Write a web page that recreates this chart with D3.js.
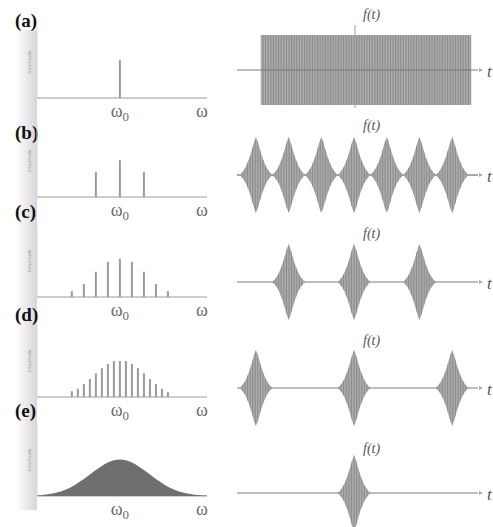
<!DOCTYPE html>
<html>
<head>
<meta charset="utf-8">
<script src="https://cdn.jsdelivr.net/npm/d3@7"></script>
<style>
  body { margin: 0; background: #fff; }
  svg { display: block; }
  .serif { font-family: 'Liberation Serif', 'Times New Roman', 'DejaVu Serif', serif; }
</style>
</head>
<body>
<div id="chart"></div>
<script>
// panel letters and axis labels
const panelLetters = ['(a)', '(b)', '(c)', '(d)', '(e)'];
const omegaLabel = 'ω';
const omegaZeroSub = '0';
const ampLabel = 'Amplitude';
const timeLabel = 't';
const funcLabel = 'f(t)';

// spectra: offset from ω0 (in line spacings) and amplitude
const freqA = [0];
const ampA = [0.53];
const freqB = [-2, 0, 2];
const ampB = [0.35, 0.51, 0.35];
const freqC = [-4, -3, -2, -1, 0, 1, 2, 3, 4];
const ampC = [0.08, 0.18, 0.35, 0.49, 0.53, 0.49, 0.35, 0.18, 0.08];
const freqD = [-4, -3.5, -3, -2.5, -2, -1.5, -1, -0.5, 0, 0.5, 1, 1.5, 2, 2.5, 3, 3.5, 4];
const ampD = [0.08, 0.115, 0.18, 0.25, 0.33, 0.40, 0.46, 0.50, 0.50, 0.50, 0.46, 0.40, 0.33, 0.25, 0.18, 0.115, 0.07];
// continuous spectrum (e)
const freqE = [-6.9, -6.5, -6, -5.5, -5, -4.5, -4, -3.5, -3, -2.5, -2, -1.5, -1, -0.5, 0,
               0.5, 1, 1.5, 2, 2.5, 3, 3.5, 4, 4.5, 5, 5.5, 6, 6.5, 7, 7.25];
const ampE = [0.005, 0.012, 0.022, 0.037, 0.058, 0.088, 0.127, 0.18, 0.235, 0.30, 0.36, 0.42, 0.47, 0.50, 0.51,
              0.50, 0.47, 0.42, 0.36, 0.30, 0.235, 0.18, 0.127, 0.088, 0.058, 0.037, 0.022, 0.012, 0.007, 0.005];

// time signals: burst centres, envelope of one burst
const extentA = [-2.85, 3.58];
const levelA = 0.92;
const burstsB = [-3, -2, -1, 0, 1, 2, 3];
const burstsC = [-2, 0, 2];
const burstsD = [-3, 0, 3];
const burstsE = [0];
const envOffset = [-0.5, -0.44, -0.38, -0.31, -0.25, -0.18, -0.12, -0.06, 0, 0.06, 0.12, 0.18, 0.25, 0.31, 0.38, 0.44, 0.5];
const envAmp = [0, 0.05, 0.12, 0.22, 0.34, 0.5, 0.68, 0.86, 1, 0.86, 0.68, 0.5, 0.34, 0.22, 0.12, 0.05, 0];

const W = 493, H = 527;
const LEFT_X = [37, 207];     // spectrum axis
const RIGHT_X = [237, 478];   // time axis
const SPEC_H = 72;            // spectrum y range
const SIG_H = 38;             // half height of signal

const rows = [
  { letterY: 27, base: 98, axisY: 70, ftY: 19, freq: freqA, amp: ampA },
  { letterY: 139, base: 197, axisY: 175, ftY: 130, freq: freqB, amp: ampB, bursts: burstsB },
  { letterY: 218, base: 297, axisY: 282, ftY: 238, freq: freqC, amp: ampC, bursts: burstsC },
  { letterY: 321, base: 397, axisY: 388, ftY: 345, freq: freqD, amp: ampD, bursts: burstsD },
  { letterY: 417, base: 496, axisY: 493, ftY: 453, freq: freqE, amp: ampE, bursts: burstsE, filled: true }
];

const svg = d3.select('#chart').append('svg')
  .attr('width', W).attr('height', H);

const defs = svg.append('defs');
const grad = defs.append('linearGradient').attr('id', 'strip');
grad.append('stop').attr('offset', '0%').attr('stop-color', '#fff');
grad.append('stop').attr('offset', '100%').attr('stop-color', '#d9d4da');

// scan shadow of the page
svg.append('rect').attr('x', 16).attr('y', 30).attr('width', 21).attr('height', 480)
  .attr('fill', 'url(#strip)');

const xw = d3.scaleLinear().domain([-6.9, 7.25]).range(LEFT_X);
const xt = d3.scaleLinear().domain([-3.58, 3.79]).range(RIGHT_X);

rows.forEach((r, i) => {
  const ya = d3.scaleLinear().domain([0, 1]).range([r.base, r.base - SPEC_H]);
  const ys = d3.scaleLinear().domain([-1, 1]).range([r.axisY + SIG_H, r.axisY - SIG_H]);
  const g = svg.append('g');

  // panel letter
  g.append('text').attr('class', 'serif').attr('x', 15).attr('y', r.letterY)
    .attr('font-weight', 'bold').attr('font-size', 19).attr('fill', '#111')
    .text(panelLetters[i]);

  // spectrum axes
  g.append('line').attr('x1', LEFT_X[0]).attr('x2', LEFT_X[0])
    .attr('y1', r.base).attr('y2', r.base - SPEC_H)
    .attr('stroke', '#d6d6d6').attr('stroke-width', 1);
  g.append('line').attr('x1', LEFT_X[0]).attr('x2', LEFT_X[1])
    .attr('y1', r.base).attr('y2', r.base)
    .attr('stroke', '#bdbdbd').attr('stroke-width', 1.3);
  g.append('text')
    .attr('transform', `translate(31,${r.base - 36}) rotate(-90)`)
    .attr('text-anchor', 'middle').attr('font-family', 'DejaVu Sans, sans-serif')
    .attr('font-size', 4.5).attr('fill', '#a0a0a0').text(ampLabel);

  if (r.filled) {
    const area = d3.area().x((d, k) => xw(r.freq[k])).y0(r.base).y1(d => ya(d))
      .curve(d3.curveBasis);
    g.append('path').attr('d', area(r.amp)).attr('fill', '#6f6f6f');
  } else {
    g.selectAll('line.bar').data(r.amp).join('line').attr('class', 'bar')
      .attr('x1', (d, k) => xw(r.freq[k])).attr('x2', (d, k) => xw(r.freq[k]))
      .attr('y1', r.base).attr('y2', d => ya(d))
      .attr('stroke', '#9a9a9a').attr('stroke-width', 2);
  }

  // ω0 and ω labels
  const lab = g.append('text').attr('class', 'serif').attr('x', xw(0)).attr('y', r.base + 19)
    .attr('text-anchor', 'middle').attr('font-size', 18).attr('fill', '#6a6a6a');
  lab.append('tspan').text(omegaLabel);
  lab.append('tspan').attr('dy', 4).attr('font-size', 13).text(omegaZeroSub);
  g.append('text').attr('class', 'serif').attr('x', LEFT_X[1] - 5).attr('y', r.base + 19)
    .attr('text-anchor', 'middle').attr('font-size', 18).attr('fill', '#6a6a6a').text(omegaLabel);

  // time signal
  const clipId = 'clip' + i;
  const clip = defs.append('clipPath').attr('id', clipId);
  if (i === 0) {
    clip.append('rect').attr('x', xt(extentA[0])).attr('y', ys(levelA))
      .attr('width', xt(extentA[1]) - xt(extentA[0])).attr('height', ys(-levelA) - ys(levelA));
  } else {
    const env = d3.area().x((d, k) => xt(envOffset[k])).y0(d => ys(-d)).y1(d => ys(d));
    r.bursts.forEach(c => {
      clip.append('path').attr('transform', `translate(${xt(c) - xt(0)},0)`).attr('d', env(envAmp));
    });
  }

  // time axes
  if (i === 0) {
    g.append('line').attr('x1', 355).attr('x2', 355).attr('y1', 25).attr('y2', 108)
      .attr('stroke', '#999').attr('stroke-width', 1);
  }
  g.append('line').attr('x1', RIGHT_X[0]).attr('x2', RIGHT_X[1])
    .attr('y1', r.axisY).attr('y2', r.axisY)
    .attr('stroke', '#a9a9a9').attr('stroke-width', i === 1 ? 2 : 1.3);
  g.append('path')
    .attr('d', `M${RIGHT_X[1] + 1},${r.axisY - 2}L${RIGHT_X[1] + 5},${r.axisY}L${RIGHT_X[1] + 1},${r.axisY + 2}Z`)
    .attr('fill', '#aaa');

  const sig = g.append('g').attr('clip-path', `url(#${clipId})`);
  sig.append('rect').attr('x', RIGHT_X[0]).attr('y', r.axisY - SIG_H - 2)
    .attr('width', RIGHT_X[1] - RIGHT_X[0]).attr('height', SIG_H * 2 + 4).attr('fill', '#ababab');
  sig.selectAll('line').data(d3.range(RIGHT_X[0], RIGHT_X[1], 2.6)).join('line')
    .attr('x1', d => d).attr('x2', d => d)
    .attr('y1', r.axisY - SIG_H - 2).attr('y2', r.axisY + SIG_H + 2)
    .attr('stroke', '#8a8a8a').attr('stroke-width', 1);
  if (i === 0) {
    sig.append('line').attr('x1', RIGHT_X[0]).attr('x2', RIGHT_X[1])
      .attr('y1', r.axisY).attr('y2', r.axisY).attr('stroke', '#777').attr('stroke-width', 1.2);
  }

  g.append('text').attr('class', 'serif').attr('x', 487).attr('y', r.axisY + 7)
    .attr('font-style', 'italic').attr('font-size', 17).attr('fill', '#555').text(timeLabel);
  g.append('text').attr('class', 'serif').attr('x', 363).attr('y', r.ftY)
    .attr('font-style', 'italic').attr('font-size', 14).attr('fill', '#555').text(funcLabel);
});
</script>
</body>
</html>
